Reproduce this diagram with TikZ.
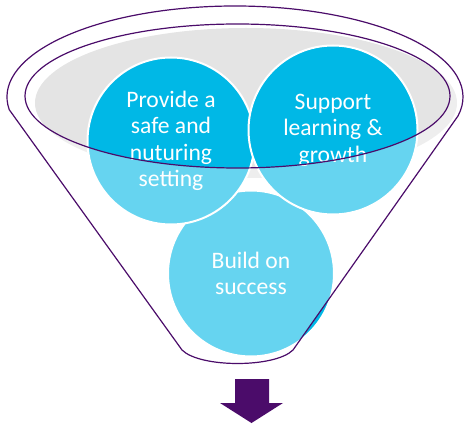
\documentclass[tikz,border=0pt]{standalone}
\usepackage{fontspec}
\setmainfont{Carlito}
\definecolor{cyanA}{HTML}{00B8E6}
\definecolor{grayA}{HTML}{E4E4E4}
\definecolor{purpA}{HTML}{4B0C6A}
\begin{document}
\begin{tikzpicture}[x=1pt,y=1pt,
  bubble/.style={circle, fill=cyanA, draw=white, line width=2pt, inner sep=0pt, text=white, align=center, font=\fontsize{23.6}{26.5}\selectfont},
  rim/.style={draw=purpA, line width=1.2pt, line join=round}]
\useasboundingbox (0,0) rectangle (468,426);
% gray bowl
\fill[grayA] (246,323) ellipse [x radius=211, y radius=75];
% circles
\node[bubble, minimum size=166pt] (build) at (251,152.5) {Build on\\success};
\node[bubble, minimum size=167pt] (safe) at (171,285) {Provide a\\safe and\\nuturing\\setting};
\node[bubble, minimum size=169pt] (support) at (333,296) {Support\\learning \&\\growth};
% translucent funnel body
\fill[white, fill opacity=0.4, even odd rule]
  (9.22,316.34) arc[start angle=188, end angle=-12, x radius=228, y radius=91]
  -- (293,76) .. controls (275,58) and (200,58) .. (182,76) -- cycle
  (237.5,330) ellipse [x radius=212.5, y radius=72];
% outlines
\draw[rim] (9.22,316.34) arc[start angle=188, end angle=-12, x radius=228, y radius=91]
  -- (293,76) .. controls (275,58) and (200,58) .. (182,76) -- cycle;
\draw[rim] (237.5,330) ellipse [x radius=212.5, y radius=72];
% arrow
\fill[purpA] (235,47) -- (269,47) -- (269,23) -- (283,23) -- (251.5,3) -- (220,23) -- (235,23) -- cycle;
\end{tikzpicture}
\end{document}
